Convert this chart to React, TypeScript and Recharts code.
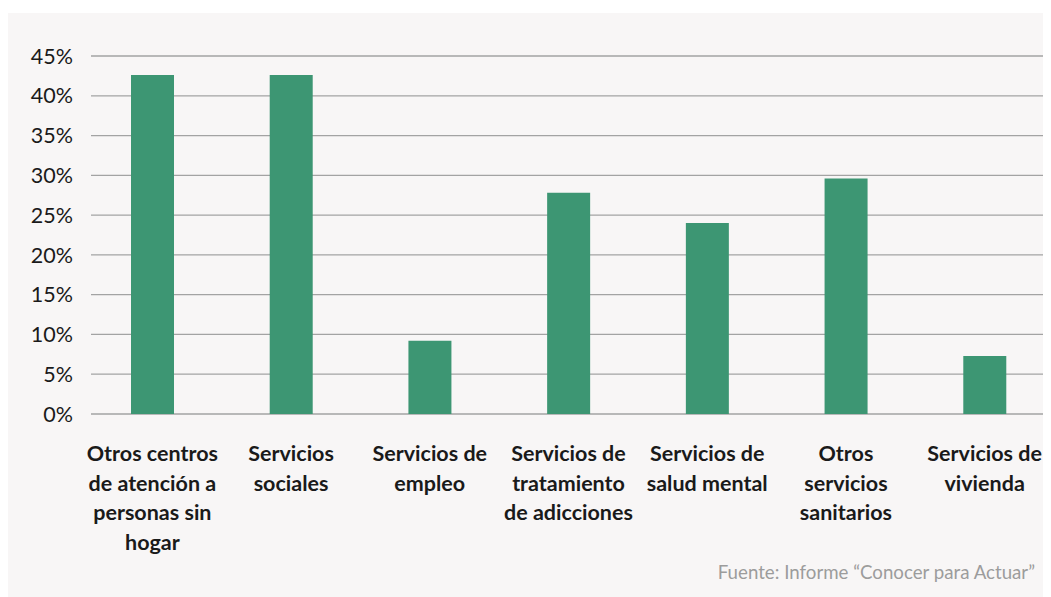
import { BarChart, Bar, XAxis, YAxis, CartesianGrid } from 'recharts'

const categories = [
  'Otros centros\nde atención a\npersonas sin\nhogar',
  'Servicios\nsociales',
  'Servicios de\nempleo',
  'Servicios de\ntratamiento\nde adicciones',
  'Servicios de\nsalud mental',
  'Otros\nservicios\nsanitarios',
  'Servicios de\nvivienda',
]
const values = [42.6, 42.6, 9.2, 27.8, 24.0, 29.6, 7.3]
const yTicks = [0, 5, 10, 15, 20, 25, 30, 35, 40, 45]

const data = categories.map((name, i) => ({ name, value: values[i] }))

const FONT = 'Lato, "Open Sans", sans-serif'

function CategoryTick({ x, y, payload }: any) {
  const lines = String(payload.value).split('\n')
  return (
    <text
      x={x}
      y={y + 39}
      textAnchor="middle"
      fontFamily={FONT}
      fontWeight={700}
      fontSize={21.5}
      fill="#1a1a1a"
    >
      {lines.map((line, i) => (
        <tspan key={i} x={x} dy={i === 0 ? 0 : 29.5}>
          {line}
        </tspan>
      ))}
    </text>
  )
}

export default function App() {
  return (
    <div style={{ position: 'relative', marginTop: 5, width: 1035, height: 584, background: '#f8f6f6' }}>
      <BarChart
        width={1035}
        height={584}
        data={data}
        margin={{ top: 43, right: 0, bottom: 0, left: 0 }}
      >
        <CartesianGrid vertical={false} stroke="#a3a3a3" strokeWidth={1.3} />
        <XAxis
          dataKey="name"
          interval={0}
          axisLine={false}
          tickLine={false}
          height={183}
          padding={{ left: -8, right: -11 }}
          tick={<CategoryTick />}
        />
        <YAxis
          domain={[0, 45]}
          ticks={yTicks}
          interval={0}
          width={83}
          axisLine={false}
          tickLine={false}
          tickSize={0}
          tickMargin={18}
          tickFormatter={(v: number) => `${v}%`}
          tick={{ fontFamily: FONT, fontSize: 21.5, fill: '#1a1a1a' }}
        />
        <Bar dataKey="value" fill="#3d9673" barSize={43} isAnimationActive={false} />
      </BarChart>
      <div
        style={{
          position: 'absolute',
          right: 8,
          top: 548,
          fontFamily: FONT,
          fontSize: 18.7,
          color: '#9c9c9c',
          whiteSpace: 'nowrap',
        }}
      >
        Fuente: Informe “Conocer para Actuar”
      </div>
    </div>
  )
}
